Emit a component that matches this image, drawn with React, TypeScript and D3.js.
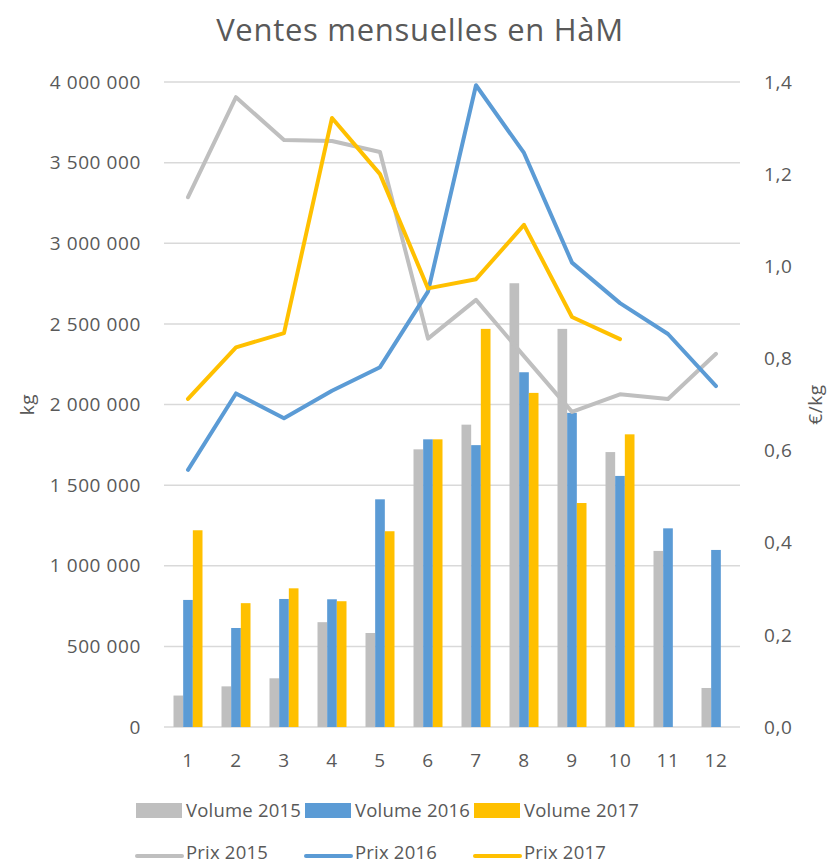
import { useEffect, useRef } from 'react';
import * as d3 from 'd3';

const months = ['1', '2', '3', '4', '5', '6', '7', '8', '9', '10', '11', '12'];

const vol2015 = [195000, 252000, 302000, 650000, 583000, 1722000, 1875000, 2752000, 2469000, 1705000, 1092000, 242000];
const vol2016 = [788000, 614000, 794000, 792000, 1412000, 1784000, 1748000, 2200000, 1948000, 1557000, 1232000, 1098000];
const vol2017 = [1220000, 768000, 860000, 780000, 1214000, 1784000, 2469000, 2072000, 1389000, 1815000, null, null];

const prix2015 = [1.15, 1.367, 1.274, 1.272, 1.248, 0.843, 0.927, 0.805, 0.684, 0.722, 0.712, 0.81];
const prix2016 = [0.558, 0.724, 0.67, 0.73, 0.781, 0.945, 1.393, 1.246, 1.008, 0.92, 0.853, 0.74];
const prix2017 = [0.712, 0.824, 0.855, 1.322, 1.2, 0.952, 0.972, 1.09, 0.89, 0.842, null, null];

const leftTicks = [0, 500000, 1000000, 1500000, 2000000, 2500000, 3000000, 3500000, 4000000];
const rightTicks = [0, 0.2, 0.4, 0.6, 0.8, 1.0, 1.2, 1.4];

const volSeries = [
  { name: 'Volume 2015', values: vol2015, color: '#BFBFBF' },
  { name: 'Volume 2016', values: vol2016, color: '#5B9BD5' },
  { name: 'Volume 2017', values: vol2017, color: '#FFC000' },
];
const prixSeries = [
  { name: 'Prix 2015', values: prix2015, color: '#BFBFBF' },
  { name: 'Prix 2016', values: prix2016, color: '#5B9BD5' },
  { name: 'Prix 2017', values: prix2017, color: '#FFC000' },
];

const font = '"Open Sans", sans-serif';
const textColor = '#595959';

const App = () => {
  const ref = useRef<SVGSVGElement | null>(null);

  useEffect(() => {
    if (!ref.current) return;
    const svg = d3.select(ref.current);
    svg.selectAll('*').remove();
    const width = 834;
    const height = 865;
    const margin = { top: 82, right: 94, bottom: 138, left: 164 };

    const x = d3
      .scaleBand<string>()
      .domain(months)
      .range([margin.left, width - margin.right]);

    const xInner = d3
      .scaleBand<string>()
      .domain(volSeries.map((s) => s.name))
      .range([0, 29]);

    const yL = d3
      .scaleLinear()
      .domain([0, 4000000])
      .range([height - margin.bottom, margin.top]);

    const yR = d3
      .scaleLinear()
      .domain([0, 1.4])
      .range([height - margin.bottom, margin.top]);

    const fmt = (v: number) => d3.format(',')(v).replace(/,/g, '\u00a0');

    // gridlines
    svg
      .append('g')
      .selectAll('line')
      .data(leftTicks)
      .join('line')
      .attr('x1', margin.left)
      .attr('x2', width - margin.right)
      .attr('y1', (d) => yL(d))
      .attr('y2', (d) => yL(d))
      .attr('stroke', '#D9D9D9')
      .attr('stroke-width', 1.5);

    // bars
    volSeries.forEach((s) => {
      svg
        .append('g')
        .selectAll('rect')
        .data(s.values.map((v, i) => ({ m: months[i], v })).filter((d) => d.v != null))
        .join('rect')
        .attr('x', (d) => x(d.m)! + x.bandwidth() / 2 - 14.5 + xInner(s.name)!)
        .attr('y', (d) => yL(d.v as number))
        .attr('width', xInner.bandwidth())
        .attr('height', (d) => yL(0) - yL(d.v as number))
        .attr('fill', s.color);
    });

    // lines
    const line = d3
      .line<{ m: string; v: number | null }>()
      .defined((d) => d.v != null)
      .x((d) => x(d.m)! + x.bandwidth() / 2)
      .y((d) => yR(d.v as number));

    prixSeries.forEach((s) => {
      svg
        .append('path')
        .datum(s.values.map((v, i) => ({ m: months[i], v })))
        .attr('fill', 'none')
        .attr('stroke', s.color)
        .attr('stroke-width', 4)
        .attr('stroke-linejoin', 'round')
        .attr('stroke-linecap', 'round')
        .attr('d', line);
    });

    const label = (sel: d3.Selection<any, any, any, any>, size = 19, spacing = 0.6) =>
      sel
        .attr('font-family', font)
        .attr('font-size', size)
        .attr('letter-spacing', spacing)
        .attr('fill', textColor);

    // left axis labels
    svg
      .append('g')
      .selectAll('text')
      .data(leftTicks)
      .join('text')
      .attr('x', 141)
      .attr('y', (d) => yL(d))
      .attr('dy', '0.35em')
      .attr('text-anchor', 'end')
      .call(label)
      .text((d) => fmt(d));

    // right axis labels
    svg
      .append('g')
      .selectAll('text')
      .data(rightTicks)
      .join('text')
      .attr('x', 764)
      .attr('y', (d) => yR(d))
      .attr('dy', '0.35em')
      .call(label)
      .text((d) => d3.format('.1f')(d).replace('.', ','));

    // x labels
    svg
      .append('g')
      .selectAll('text')
      .data(months)
      .join('text')
      .attr('x', (d) => x(d)! + x.bandwidth() / 2)
      .attr('y', 760)
      .attr('dy', '0.35em')
      .attr('text-anchor', 'middle')
      .call(label)
      .text((d) => d);

    // title
    svg
      .append('text')
      .attr('x', 420)
      .attr('y', 30)
      .attr('dy', '0.35em')
      .attr('text-anchor', 'middle')
      .call(label, 31, 0.7)
      .text('Ventes mensuelles en HàM');

    // axis titles
    svg
      .append('text')
      .attr('transform', `translate(27,${(yL(0) + yL(4000000)) / 2}) rotate(-90)`)
      .attr('text-anchor', 'middle')
      .attr('dy', '0.35em')
      .call(label)
      .text('kg');

    svg
      .append('text')
      .attr('transform', `translate(815,${(yL(0) + yL(4000000)) / 2}) rotate(-90)`)
      .attr('text-anchor', 'middle')
      .attr('dy', '0.35em')
      .call(label)
      .text('€/kg');

    // legend
    const legX = [136, 305, 474];
    volSeries.forEach((s, i) => {
      svg
        .append('rect')
        .attr('x', legX[i])
        .attr('y', 803)
        .attr('width', 46)
        .attr('height', 15)
        .attr('fill', s.color);
      svg
        .append('text')
        .attr('x', legX[i] + 50)
        .attr('y', 811)
        .attr('dy', '0.35em')
        .call(label, 18.5, 0.2)
        .text(s.name);
    });
    prixSeries.forEach((s, i) => {
      svg
        .append('line')
        .attr('x1', legX[i] + 1)
        .attr('x2', legX[i] + 46)
        .attr('y1', 856)
        .attr('y2', 856)
        .attr('stroke', s.color)
        .attr('stroke-width', 4)
        .attr('stroke-linecap', 'round');
      svg
        .append('text')
        .attr('x', legX[i] + 50)
        .attr('y', 853)
        .attr('dy', '0.35em')
        .call(label, 18.5, 0.2)
        .text(s.name);
    });
  }, []);

  return (
    <svg
      ref={ref}
      width={834}
      height={865}
      style={{ position: 'absolute', left: 0, top: 0, background: '#fff' }}
    />
  );
};

export default App;
